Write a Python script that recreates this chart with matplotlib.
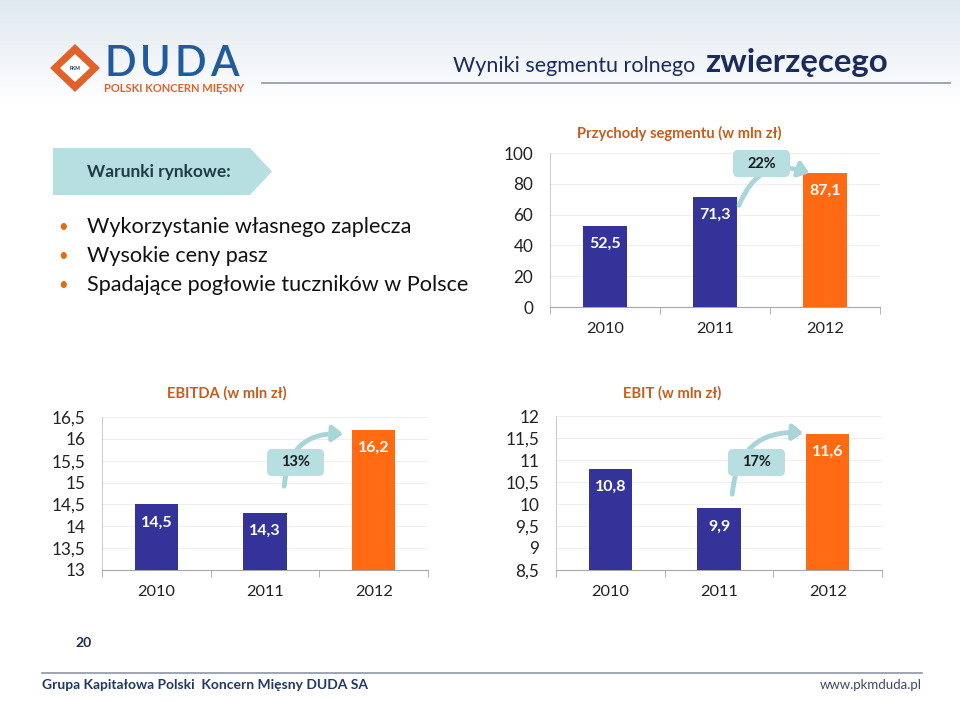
import numpy as np
import matplotlib
matplotlib.use('Agg')
import matplotlib.pyplot as plt
from matplotlib.patches import Polygon, FancyBboxPatch, FancyArrowPatch
from matplotlib.ticker import FuncFormatter, MultipleLocator

plt.rcParams['font.family'] = ['Lato', 'DejaVu Sans']

# data
years = ['2010', '2011', '2012']
revenue = [52.5, 71.3, 87.1]
ebitda = [14.5, 14.3, 16.2]
ebit = [10.8, 9.9, 11.6]
growth = ['22%', '13%', '17%']
bullets = ['Wykorzystanie własnego zaplecza', 'Wysokie ceny pasz',
           'Spadające pogłowie tuczników w Polsce']

BLUE = '#333399'
ORANGE = '#FF6A13'
TITLE_C = '#C95B1C'
TEAL = '#A9D5D9'
BOX_C = '#B7DEE1'
NAVY = '#1B2B5B'

W, H = 960, 701
fig = plt.figure(figsize=(9.6, 7.01), dpi=100)


def px_axes(left, top, right, bottom):
    return fig.add_axes([left / W, 1 - bottom / H, (right - left) / W, (bottom - top) / H])


def comma(v, pos=None):
    return ('%g' % v).replace('.', ',')


def bar_chart(ax, values, ymin, ymax, step):
    x = np.arange(len(years))
    ax.bar(x, values, width=0.4, color=[BLUE, BLUE, ORANGE], zorder=3)
    ax.set_xlim(-0.5, len(years) - 0.5)
    ax.set_ylim(ymin, ymax)
    ax.yaxis.set_major_locator(MultipleLocator(step))
    ax.yaxis.set_major_formatter(FuncFormatter(comma))
    ax.set_xticks(x, years)
    ax.set_xticks(np.arange(len(years) + 1) - 0.5, minor=True)
    ax.tick_params(axis='x', which='major', length=0, pad=11, labelsize=11.8, labelcolor='#222222')
    ax.tick_params(axis='x', which='minor', length=5, color='#A6A6A6', direction='out')
    ax.tick_params(axis='y', length=0, pad=12, labelsize=12.3, labelcolor='#222222')
    ax.grid(axis='y', color='#EFEFEF', lw=0.8, zorder=0)
    ax.set_facecolor('none')
    for s in ['top', 'right']:
        ax.spines[s].set_visible(False)
    ax.spines['left'].set_color('#CCCCCC')
    ax.spines['bottom'].set_color('#A6A6A6')
    for xi, v in zip(x, values):
        ax.annotate(comma(v), (xi, v), xytext=(0, -13), textcoords='offset points',
                    ha='center', va='center', color='white', fontweight='bold', fontsize=11.5)


ax1 = px_axes(550, 153, 880, 307)
bar_chart(ax1, revenue, 0, 100, 20)
ax2 = px_axes(102, 417, 428, 570)
bar_chart(ax2, ebitda, 13, 16.5, 0.5)
ax3 = px_axes(556, 416, 882, 570)
bar_chart(ax3, ebit, 8.5, 12, 0.5)

# overlay in pixel coordinates for all slide decorations
ov = fig.add_axes([0, 0, 1, 1], zorder=10)
grad = np.linspace(0, 1, 100)[:, None, None]
top_c = np.array([0.88, 0.91, 0.94])
ov.imshow(top_c + (1 - top_c) * grad, extent=[0, W, 105, 0], aspect='auto', zorder=0)
ov.set_xlim(0, W)
ov.set_ylim(H, 0)
ov.axis('off')
ov.patch.set_alpha(0)

# logo
ov.add_patch(Polygon([(51, 68), (75, 45), (99, 68), (75, 91)], color='#E2612B', zorder=2))
ov.add_patch(Polygon([(61, 68), (75, 55), (89, 68), (75, 81)], color='white', zorder=3))
ov.text(75, 68, 'PKM', fontsize=3.5, color=NAVY, ha='center', va='center', fontweight='bold', zorder=4)
for i, ch in enumerate('DUDA'):
    ov.text(104 + 35.5 * i, 64, ch, fontsize=30, color='#1F5B9E', ha='left', va='center',
            fontweight='semibold')
ov.text(104, 88, 'POLSKI KONCERN MIĘSNY', fontsize=8, color='#E2612B', ha='left', va='center',
        fontweight='bold')

# header
ov.text(453, 72, 'Wyniki segmentu rolnego', fontsize=15.5, color=NAVY, ha='left', va='baseline')
ov.text(705, 72, 'zwierzęcego', fontsize=23.8, color=NAVY, ha='left', va='baseline', fontweight='bold')
ov.plot([262, 950], [83, 83], color='#8C95A8', lw=1.2)

# market conditions
ov.add_patch(Polygon([(53, 148), (250, 148), (272, 171.5), (250, 195), (53, 195)], color=BOX_C, lw=0))
ov.text(87, 172, 'Warunki rynkowe:', fontsize=12.5, fontweight='bold', color='#1F3B45', va='center')
for i, b in enumerate(bullets):
    y = 227 + 29 * i
    ov.text(63, y, '•', fontsize=12, color='#E46C0A', ha='center', va='center')
    ov.text(87, y, b, fontsize=15.6, color='#111111', va='center')

# chart titles
ov.text(679, 133, 'Przychody segmentu (w mln zł)', fontsize=10.6, fontweight='bold', color=TITLE_C,
        ha='center', va='center')
ov.text(227, 393, 'EBITDA (w mln zł)', fontsize=10.6, fontweight='bold', color=TITLE_C,
        ha='center', va='center')
ov.text(672, 393, 'EBIT (w mln zł)', fontsize=10.6, fontweight='bold', color=TITLE_C,
        ha='center', va='center')

# growth callouts: box (left, top), arrow start, arrow end
callouts = [((733, 150), (738, 208), (812, 174)),
            ((267, 449), (284, 489), (346, 434)),
            ((728, 449), (732, 497), (806, 433))]
for label, (box, start, end) in zip(growth, callouts):
    ov.add_patch(FancyArrowPatch(start, end, connectionstyle='arc3,rad=-0.5',
                                 arrowstyle='-|>,head_length=6,head_width=4.5',
                                 lw=3.5, color=TEAL, zorder=5))
    ov.add_patch(FancyBboxPatch(box, 57, 27, boxstyle='round,pad=0,rounding_size=5',
                                color=BOX_C, lw=0, zorder=6))
    ov.text(box[0] + 28.5, box[1] + 13.5, label, fontsize=10.5, fontweight='bold',
            color='#1A1A1A', ha='center', va='center', zorder=7)

# footer
ov.text(84, 643, '20', fontsize=10, fontweight='bold', color=NAVY, ha='center', va='center')
ov.plot([42, 922], [673, 673], color='#8C95A5', lw=1.2)
ov.text(42, 685, 'Grupa Kapitałowa Polski  Koncern Mięsny DUDA SA', fontsize=10, fontweight='bold',
        color='#1F3864', ha='left', va='center')
ov.text(922, 685, 'www.pkmduda.pl', fontsize=9.5, color='#3B4A6B', ha='right', va='center')

fig.savefig('out.png', dpi=100)
